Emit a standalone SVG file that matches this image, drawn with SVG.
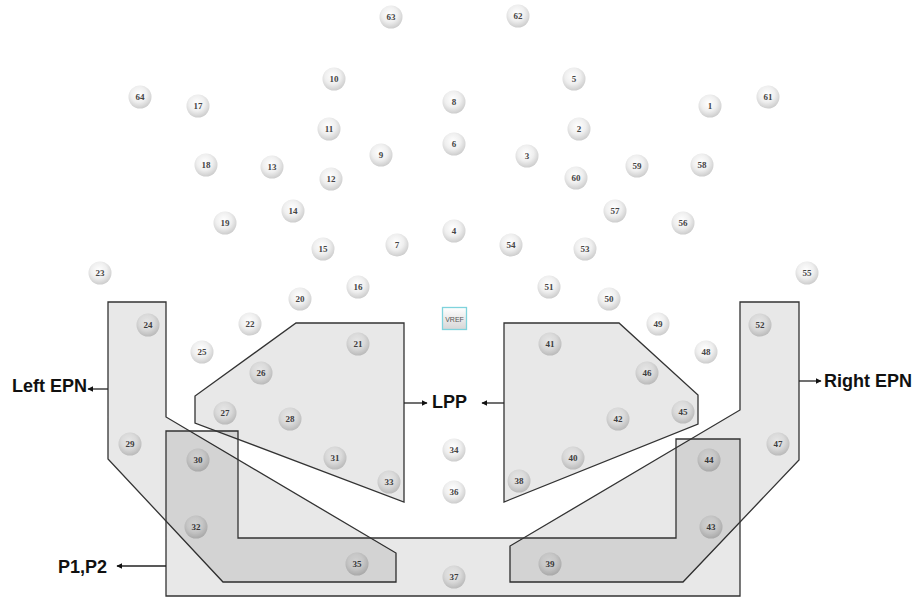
<svg xmlns="http://www.w3.org/2000/svg" width="913" height="598" viewBox="0 0 913 598">
<defs>
<radialGradient id="ball" cx="45%" cy="38%" r="62%">
<stop offset="0" stop-color="#ffffff"/>
<stop offset="0.55" stop-color="#efefef"/>
<stop offset="1" stop-color="#cdcdcd"/>
</radialGradient>
<linearGradient id="vref" x1="0" y1="0" x2="0" y2="1">
<stop offset="0" stop-color="#ffffff"/>
<stop offset="1" stop-color="#d6d6d6"/>
</linearGradient>
<marker id="ah" viewBox="0 0 10 10" refX="9" refY="5" markerWidth="6" markerHeight="6" markerUnits="userSpaceOnUse" orient="auto">
<path d="M0,0 L10,5 L0,10 z" fill="#111"/>
</marker>
</defs>
<style>
.e circle{fill:url(#ball);}
.e text{font-family:"Liberation Serif","DejaVu Serif",serif;font-size:9px;font-weight:bold;fill:#444444;text-anchor:middle;}
.reg{fill:#000;fill-opacity:0.09;stroke:#333;stroke-width:1.3;stroke-linejoin:miter;}
.lbl{font-family:"Liberation Sans",Arial,sans-serif;font-size:18px;font-weight:bold;fill:#111;}
.con{stroke:#222;stroke-width:1.3;fill:none;marker-end:url(#ah);}
</style>
<rect width="913" height="598" fill="#ffffff"/>
<g id="electrodes">
<g id="e63" class="e"><circle cx="391" cy="17" r="11.5"/><text x="391" y="20">63</text></g>
<g id="e62" class="e"><circle cx="518" cy="16" r="11.5"/><text x="518" y="19">62</text></g>
<g id="e10" class="e"><circle cx="334" cy="79" r="11.5"/><text x="334" y="82">10</text></g>
<g id="e5" class="e"><circle cx="574" cy="79" r="11.5"/><text x="574" y="82">5</text></g>
<g id="e64" class="e"><circle cx="140" cy="97" r="11.5"/><text x="140" y="100">64</text></g>
<g id="e61" class="e"><circle cx="768" cy="97" r="11.5"/><text x="768" y="100">61</text></g>
<g id="e17" class="e"><circle cx="198" cy="106" r="11.5"/><text x="198" y="109">17</text></g>
<g id="e1" class="e"><circle cx="710" cy="106" r="11.5"/><text x="710" y="109">1</text></g>
<g id="e8" class="e"><circle cx="454" cy="102" r="11.5"/><text x="454" y="105">8</text></g>
<g id="e11" class="e"><circle cx="329" cy="129" r="11.5"/><text x="329" y="132">11</text></g>
<g id="e2" class="e"><circle cx="579" cy="129" r="11.5"/><text x="579" y="132">2</text></g>
<g id="e6" class="e"><circle cx="454" cy="144" r="11.5"/><text x="454" y="147">6</text></g>
<g id="e9" class="e"><circle cx="381" cy="155" r="11.5"/><text x="381" y="158">9</text></g>
<g id="e3" class="e"><circle cx="527" cy="156" r="11.5"/><text x="527" y="159">3</text></g>
<g id="e18" class="e"><circle cx="206" cy="165" r="11.5"/><text x="206" y="168">18</text></g>
<g id="e13" class="e"><circle cx="272" cy="167" r="11.5"/><text x="272" y="170">13</text></g>
<g id="e12" class="e"><circle cx="331" cy="179" r="11.5"/><text x="331" y="182">12</text></g>
<g id="e60" class="e"><circle cx="576" cy="178" r="11.5"/><text x="576" y="181">60</text></g>
<g id="e59" class="e"><circle cx="637" cy="166" r="11.5"/><text x="637" y="169">59</text></g>
<g id="e58" class="e"><circle cx="702" cy="165" r="11.5"/><text x="702" y="168">58</text></g>
<g id="e14" class="e"><circle cx="293" cy="211" r="11.5"/><text x="293" y="214">14</text></g>
<g id="e57" class="e"><circle cx="615" cy="211" r="11.5"/><text x="615" y="214">57</text></g>
<g id="e19" class="e"><circle cx="225" cy="223" r="11.5"/><text x="225" y="226">19</text></g>
<g id="e56" class="e"><circle cx="683" cy="223" r="11.5"/><text x="683" y="226">56</text></g>
<g id="e4" class="e"><circle cx="454" cy="231" r="11.5"/><text x="454" y="234">4</text></g>
<g id="e15" class="e"><circle cx="323" cy="249" r="11.5"/><text x="323" y="252">15</text></g>
<g id="e7" class="e"><circle cx="397" cy="245" r="11.5"/><text x="397" y="248">7</text></g>
<g id="e54" class="e"><circle cx="511" cy="245" r="11.5"/><text x="511" y="248">54</text></g>
<g id="e53" class="e"><circle cx="585" cy="249" r="11.5"/><text x="585" y="252">53</text></g>
<g id="e23" class="e"><circle cx="100" cy="273" r="11.5"/><text x="100" y="276">23</text></g>
<g id="e55" class="e"><circle cx="807" cy="273" r="11.5"/><text x="807" y="276">55</text></g>
<g id="e16" class="e"><circle cx="358" cy="287" r="11.5"/><text x="358" y="290">16</text></g>
<g id="e51" class="e"><circle cx="549" cy="287" r="11.5"/><text x="549" y="290">51</text></g>
<g id="e20" class="e"><circle cx="300" cy="299" r="11.5"/><text x="300" y="302">20</text></g>
<g id="e50" class="e"><circle cx="609" cy="299" r="11.5"/><text x="609" y="302">50</text></g>
<g id="e24" class="e"><circle cx="148" cy="325" r="11.5"/><text x="148" y="328">24</text></g>
<g id="e22" class="e"><circle cx="250" cy="324" r="11.5"/><text x="250" y="327">22</text></g>
<g id="e49" class="e"><circle cx="658" cy="324" r="11.5"/><text x="658" y="327">49</text></g>
<g id="e52" class="e"><circle cx="760" cy="325" r="11.5"/><text x="760" y="328">52</text></g>
<g id="e25" class="e"><circle cx="202" cy="352" r="11.5"/><text x="202" y="355">25</text></g>
<g id="e48" class="e"><circle cx="706" cy="352" r="11.5"/><text x="706" y="355">48</text></g>
<g id="e21" class="e"><circle cx="358" cy="344" r="11.5"/><text x="358" y="347">21</text></g>
<g id="e41" class="e"><circle cx="550" cy="344" r="11.5"/><text x="550" y="347">41</text></g>
<g id="e26" class="e"><circle cx="261" cy="373" r="11.5"/><text x="261" y="376">26</text></g>
<g id="e46" class="e"><circle cx="647" cy="373" r="11.5"/><text x="647" y="376">46</text></g>
<g id="e27" class="e"><circle cx="225" cy="413" r="11.5"/><text x="225" y="416">27</text></g>
<g id="e45" class="e"><circle cx="683" cy="412" r="11.5"/><text x="683" y="415">45</text></g>
<g id="e28" class="e"><circle cx="290" cy="419" r="11.5"/><text x="290" y="422">28</text></g>
<g id="e42" class="e"><circle cx="618" cy="419" r="11.5"/><text x="618" y="422">42</text></g>
<g id="e29" class="e"><circle cx="130" cy="444" r="11.5"/><text x="130" y="447">29</text></g>
<g id="e47" class="e"><circle cx="778" cy="444" r="11.5"/><text x="778" y="447">47</text></g>
<g id="e30" class="e"><circle cx="198" cy="460" r="11.5"/><text x="198" y="463">30</text></g>
<g id="e44" class="e"><circle cx="709" cy="460" r="11.5"/><text x="709" y="463">44</text></g>
<g id="e31" class="e"><circle cx="335" cy="458" r="11.5"/><text x="335" y="461">31</text></g>
<g id="e40" class="e"><circle cx="573" cy="458" r="11.5"/><text x="573" y="461">40</text></g>
<g id="e33" class="e"><circle cx="389" cy="482" r="11.5"/><text x="389" y="485">33</text></g>
<g id="e38" class="e"><circle cx="519" cy="481" r="11.5"/><text x="519" y="484">38</text></g>
<g id="e34" class="e"><circle cx="454" cy="450" r="11.5"/><text x="454" y="453">34</text></g>
<g id="e36" class="e"><circle cx="454" cy="492" r="11.5"/><text x="454" y="495">36</text></g>
<g id="e32" class="e"><circle cx="196" cy="527" r="11.5"/><text x="196" y="530">32</text></g>
<g id="e43" class="e"><circle cx="711" cy="527" r="11.5"/><text x="711" y="530">43</text></g>
<g id="e35" class="e"><circle cx="357" cy="564" r="11.5"/><text x="357" y="567">35</text></g>
<g id="e39" class="e"><circle cx="550" cy="564" r="11.5"/><text x="550" y="567">39</text></g>
<g id="e37" class="e"><circle cx="454" cy="577" r="11.5"/><text x="454" y="580">37</text></g>
<g id="vref"><rect x="442.5" y="307.5" width="24" height="22" fill="url(#vref)" stroke="#7fd3dc" stroke-width="1.3"/><text x="454.5" y="321.5" font-family="Liberation Sans, Arial, sans-serif" font-size="7px" fill="#555" text-anchor="middle">VREF</text></g>
</g>
<g id="regions">
<g id="leftEPN"><polygon class="reg" points="108,302 166,302 166,417 396,553 396,582 223,582 108,459"/></g>
<g id="rightEPN"><polygon class="reg" points="740,302 799,302 799,460 683,582 510,582 510,546 740,410"/></g>
<g id="P1P2"><polygon class="reg" points="166,431 238,431 238,538 676,538 676,439 740,439 740,596 166,596"/></g>
<g id="leftLPP"><polygon class="reg" points="296,323 404,323 404,502 195,423 195,396"/></g>
<g id="rightLPP"><polygon class="reg" points="504,323 619,323 698,395 698,424 504,502"/></g>
</g>
<g id="connectors">
<line class="con" x1="108" y1="389" x2="88" y2="389"/>
<line class="con" x1="166" y1="566" x2="117" y2="566"/>
<line class="con" x1="404" y1="403" x2="427" y2="403"/>
<line class="con" x1="504" y1="403" x2="482" y2="403"/>
<line class="con" x1="799" y1="381" x2="821" y2="381"/>
</g>
<g id="labels">
<text class="lbl" x="12" y="392">Left EPN</text>
<text class="lbl" x="432" y="408">LPP</text>
<text class="lbl" x="58" y="573">P1,P2</text>
<text class="lbl" x="824" y="387">Right EPN</text>
</g>
</svg>
